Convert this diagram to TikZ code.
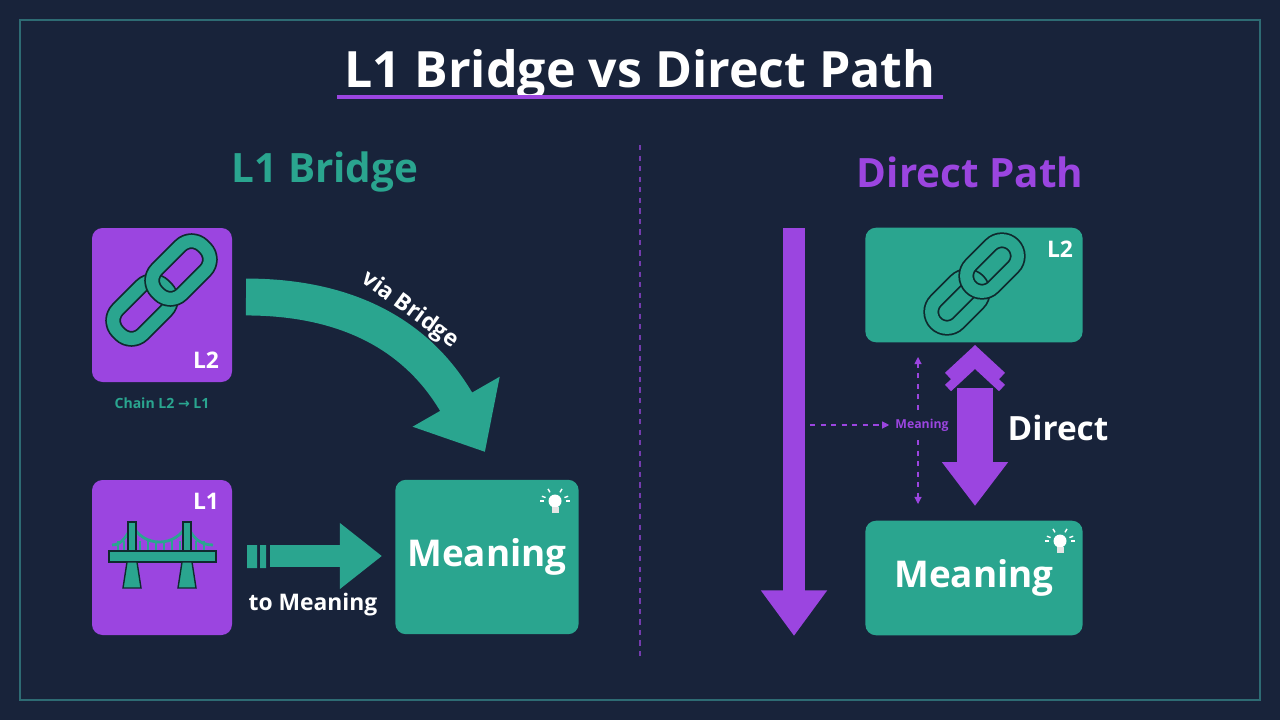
\documentclass[tikz,border=0pt]{standalone}
\usepackage{fontspec}
\setmainfont{Open Sans}
\newfontfamily\symfont{DejaVu Sans}
\usetikzlibrary{arrows.meta,positioning,calc}
\definecolor{bgnavy}{HTML}{18233A}
\definecolor{tealc}{HTML}{2AA58F}
\definecolor{purc}{HTML}{9B45E0}
\definecolor{framec}{HTML}{2E6B73}
\definecolor{edgec}{HTML}{0F2A2E}
\tikzset{
  card/.style={rounded corners=6pt, inner sep=0pt},
  link/.style={draw=edgec, double=tealc, double distance=7pt, line width=1pt,
    rounded corners=9pt, minimum width=37pt, minimum height=20pt, inner sep=0pt},
  lbl/.style={text=white, font=\bfseries\fontsize{13}{14}\selectfont},
  big/.style={text=white, font=\bfseries\fontsize{21}{24}\selectfont},
}
\newcommand{\bulb}[1]{%
  \fill[white] (#1) ++(0,-2) circle (6.5);
  \fill[white!80!gray] ($(#1)+(-3.5,4)$) rectangle ($(#1)+(3.5,10)$);
  \foreach \a in {200,240,300,340}
    \draw[white, line width=0.8pt] ($(#1)+(0,-2)+(\a:10)$) -- ($(#1)+(0,-2)+(\a:14)$);
  \draw[white, line width=0.8pt] ($(#1)+(-11,-2)$) -- ($(#1)+(-15,-2)$)
                                 ($(#1)+(11,-2)$) -- ($(#1)+(15,-2)$);
}
\begin{document}
\begin{tikzpicture}[x=0.02cm, y=-0.02cm]
  \fill[bgnavy] (0,0) rectangle (1280,720);
  \useasboundingbox (0,0) rectangle (1280,720);
  \draw[framec, line width=0.8pt] (20,20) rectangle (1260,700);

  % title
  \node[text=white, font=\bfseries\fontsize{28.5}{30}\selectfont] (title) at (640,74) {L1 Bridge vs Direct Path};
  \draw[purc, line width=2.2pt] (337,97) -- (943,97);
  \node[text=tealc, font=\bfseries\fontsize{23}{26}\selectfont] (lhead) at (325,172) {L1 Bridge};
  \node[text=purc, font=\bfseries\fontsize{23}{26}\selectfont] (rhead) at (970,172) {Direct Path};
  \draw[purc!70!bgnavy, dashed, line width=0.8pt] (640,145) -- (640,660);

  % left column
  \fill[purc, rounded corners=6pt] (92,228) rectangle (232,382);
  \node[lbl] (ltwo) at (206,360) {L2};
  \node[link, rotate=45] (la) at (142,310) {};
  \node[link, rotate=45] (lb) at (181,270) {};
  \node[text=tealc, font=\bfseries\fontsize{8}{9}\selectfont] (chain) at (162,403) {Chain L2 {\symfont →} L1};

  \fill[purc, rounded corners=6pt] (92,480) rectangle (232,635);
  \node[lbl] (lone) at (206,501) {L1};
  % bridge
  \draw[tealc, line width=1.6pt] (112,545) .. controls (122,545) and (128,535) .. (132,524)
    .. controls (142,548) and (177,548) .. (187,524) .. controls (191,535) and (198,545) .. (213,545);
  \foreach \x in {118,124,140,148,156,164,172,180,196,204}
    \draw[tealc, line width=0.6pt] (\x,541) -- (\x,552);
  \filldraw[fill=tealc, draw=edgec, line width=0.8pt] (128,522) rectangle (136,552)
    (183,522) rectangle (191,552);
  \filldraw[fill=tealc, draw=edgec, line width=0.8pt] (109,551) rectangle (216,562);
  \filldraw[fill=tealc, draw=edgec, line width=0.8pt] (127,562) -- (137,562) -- (141,588) -- (123,588) -- cycle
    (182,562) -- (192,562) -- (196,588) -- (178,588) -- cycle;

  \node[card, fill=tealc, minimum width=184*0.567pt, minimum height=155*0.567pt] (lmean) at (487,557) {};
  \node[big] at (lmean) {Meaning};
  \bulb{555,503}

  \coordinate (cstart) at (246,297);
  \coordinate (ctip) at (485,452);
  \draw[tealc, line width=21pt, -{Triangle[length=33pt, width=55pt]}]
    (cstart) .. controls (340,297) and (415,330) .. (ctip);
  \node[lbl, rotate=-36] (via) at (410,310) {via Bridge};

  \fill[tealc] (247,545) rectangle (257,568) (260,545) rectangle (266,568);
  \coordinate (sstart) at (270,556);
  \coordinate (stip) at (382,556);
  \draw[tealc, line width=13pt, -{Triangle[length=24pt, width=36pt]}] (sstart) -- (stip);
  \node[lbl] (tomean) at (313,605) {to Meaning};

  % right column
  \coordinate (dtop) at (794,228);
  \coordinate (dbot) at (794,636);
  \draw[purc, line width=12.5pt, -{Triangle[length=26pt, width=36pt]}] (dtop) -- (dbot);

  \node[card, fill=tealc, minimum width=218*0.567pt, minimum height=115*0.567pt] (rtwo) at (974,285) {};
  \node[lbl] at (1060,249) {L2};
  \node[link, rotate=45, minimum width=34pt, minimum height=18pt] (ra) at (957,302) {};
  \node[link, rotate=45, minimum width=34pt, minimum height=18pt] (rb) at (992,266) {};

  \node[card, fill=tealc, minimum width=218*0.567pt, minimum height=115*0.567pt] (rmean) at (974,578) {};
  \node[big] at (rmean) {Meaning};
  \bulb{1060,543}

  \coordinate (uptop) at (975,388);
  \coordinate (dntip) at (975,506);
  \draw[purc, line width=20pt, -{Triangle[length=25pt, width=36pt]}] (uptop) -- (dntip);
  \draw[purc, line width=5pt] (948,388) -- (975,363) -- (1002,388)
                              (948,376) -- (975,351) -- (1002,376);
  \node[big, font=\bfseries\fontsize{19}{22}\selectfont] (direct) at (1058,428) {Direct};

  \node[text=purc, font=\bfseries\fontsize{7}{8}\selectfont] (smean) at (922,425) {Meaning};
  \coordinate (hstart) at (810,425);
  \draw[purc, dashed, line width=0.6pt, -{Triangle[length=4pt, width=4pt]}] (hstart) -- (smean.west);
  \coordinate (vtop) at (918,357);
  \coordinate (vbot) at (918,504);
  \draw[purc, dashed, line width=0.6pt, -{Triangle[length=4pt, width=4pt]}] (918,410) -- (vtop);
  \draw[purc, dashed, line width=0.6pt, -{Triangle[length=4pt, width=4pt]}] (918,440) -- (vbot);
\end{tikzpicture}
\end{document}
